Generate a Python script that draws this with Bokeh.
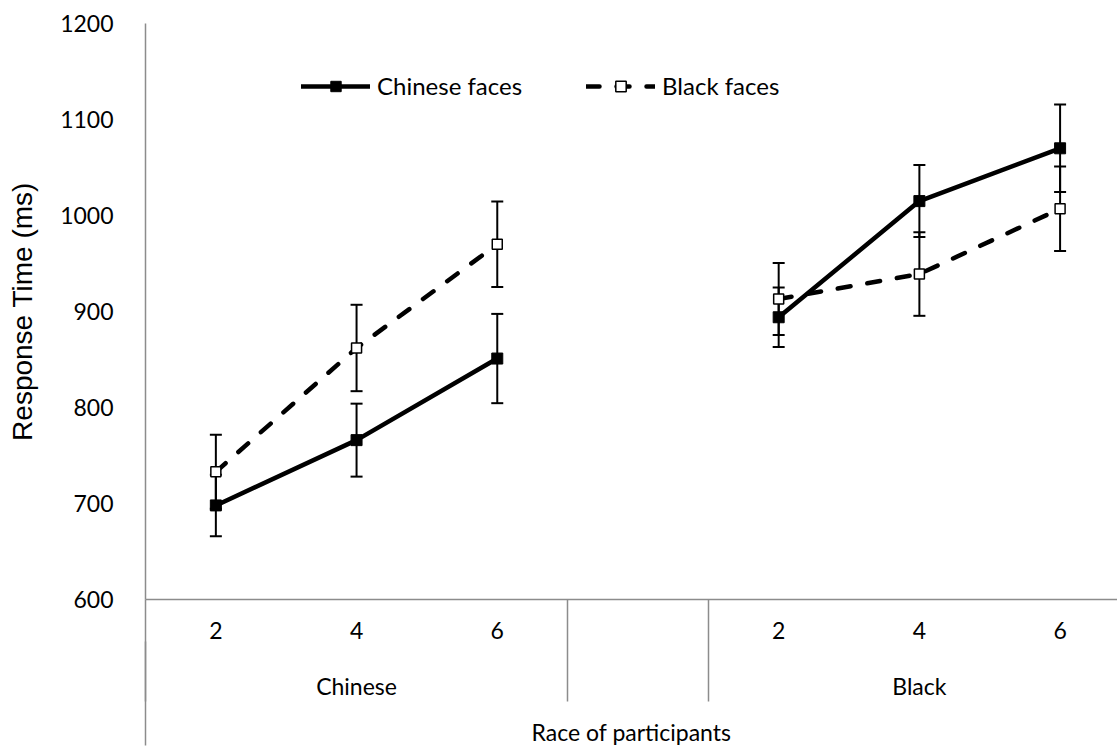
from bokeh.plotting import figure
from bokeh.models import (Range1d, LinearAxis, FixedTicker, ColumnDataSource,
                          Whisker, TeeHead, Legend, LegendItem)
from bokeh.embed import file_html
from bokeh.resources import INLINE

# ---------------- data ----------------
participant_groups = ["Chinese", "Black"]
set_sizes = ["2", "4", "6"]
chinese_faces_rt = [698, 766, 851, 894, 1015, 1070]
chinese_faces_err = [32, 38, 46.5, 31, 37.5, 45.5]
black_faces_rt = [733, 862, 970, 913, 939, 1007]
black_faces_err = [38.5, 45, 44.5, 37.5, 43.5, 44]
y_ticks = [600, 700, 800, 900, 1000, 1100, 1200]
series_names = ["Chinese faces", "Black faces"]
x_title = "Race of participants"
y_title = "Response Time (ms)"

# category slots: each group takes len(set_sizes) slots plus one empty slot
slots_per_group = len(set_sizes) + 1
positions = [g * slots_per_group + i for g in range(len(participant_groups)) for i in range(len(set_sizes))]
group_centers = [g * slots_per_group + (len(set_sizes) - 1) / 2 for g in range(len(participant_groups))]
separators = [len(set_sizes) - 0.5, len(set_sizes) + 0.5]

GRAY = "#8c8c8c"
FONT = "Lato"
FS = "23px"

p = figure(width=1117, height=748, output_backend="svg", toolbar_location=None,
           x_axis_location=None, y_axis_location=None,
           x_range=Range1d(-0.5, 6.408), y_range=Range1d(600, 1200),
           min_border_left=145, min_border_right=0, min_border_top=23, min_border_bottom=147)
p.outline_line_color = None
p.background_fill_color = "white"
p.border_fill_color = "white"
p.xgrid.visible = False
p.ygrid.visible = False

# ---------------- axes ----------------
yax = LinearAxis(ticker=FixedTicker(ticks=y_ticks))
yax.axis_line_color = GRAY
yax.axis_line_width = 1.5
yax.major_tick_out = 0
yax.major_tick_in = 0
yax.minor_tick_out = 0
yax.minor_tick_in = 0
yax.major_label_standoff = 32
yax.major_label_text_font = FONT
yax.major_label_text_font_size = FS
yax.major_label_text_color = "black"
yax.axis_label = y_title
yax.axis_label_text_font = "Liberation Sans"
yax.axis_label_text_font_size = "28px"
yax.axis_label_text_font_style = "normal"
yax.axis_label_text_color = "black"
yax.axis_label_standoff = 19
p.add_layout(yax, "left")

# first category level (set sizes) + separators drawn as long minor ticks
A_TICK = 102
axA = LinearAxis(ticker=FixedTicker(ticks=positions, minor_ticks=[-0.5] + separators))
axA.major_label_overrides = {pos: set_sizes[k % len(set_sizes)] for k, pos in enumerate(positions)}
axA.axis_line_color = GRAY
axA.axis_line_width = 1.5
axA.major_tick_out = 0
axA.major_tick_in = 0
axA.minor_tick_in = 0
axA.minor_tick_out = A_TICK
axA.minor_tick_line_color = GRAY
axA.minor_tick_line_width = 1.5
axA.major_label_standoff = 22 - A_TICK
axA.major_label_text_font = FONT
axA.major_label_text_font_size = FS
axA.major_label_text_color = "black"
p.add_layout(axA, "below")

# second category level (participant race) + axis title
B_TICK = 104
axB = LinearAxis(ticker=FixedTicker(ticks=group_centers, minor_ticks=[-0.5]))
axB.major_label_overrides = {c: participant_groups[k] for k, c in enumerate(group_centers)}
axB.axis_line_color = None
axB.major_tick_out = 0
axB.major_tick_in = 0
axB.minor_tick_in = 0
axB.minor_tick_out = B_TICK
axB.minor_tick_line_color = GRAY
axB.minor_tick_line_width = 1.5
axB.major_label_standoff = 30 - B_TICK
axB.major_label_text_font = FONT
axB.major_label_text_font_size = FS
axB.major_label_text_color = "black"
axB.axis_label = x_title
axB.axis_label_text_font = FONT
axB.axis_label_text_font_size = FS
axB.axis_label_text_font_style = "normal"
axB.axis_label_text_color = "black"
axB.axis_label_standoff = 15
p.add_layout(axB, "below")

# ---------------- error bars ----------------
def add_whiskers(rt, err):
    src = ColumnDataSource(dict(x=positions,
                                lower=[m - e for m, e in zip(rt, err)],
                                upper=[m + e for m, e in zip(rt, err)]))
    w = Whisker(base="x", lower="lower", upper="upper", source=src,
                line_color="black", line_width=2, level="underlay",
                upper_head=TeeHead(size=12, line_width=2, line_color="black"),
                lower_head=TeeHead(size=12, line_width=2, line_color="black"))
    p.add_layout(w)

add_whiskers(chinese_faces_rt, chinese_faces_err)
add_whiskers(black_faces_rt, black_faces_err)

# ---------------- lines + markers ----------------
n = len(set_sizes)
legend_items = []
styles = [
    dict(dash="solid", fill="black", size=11, mlw=1),
    dict(dash="13 17", fill="white", size=10, mlw=1.5),
]
for name, rt, st in zip(series_names, [chinese_faces_rt, black_faces_rt], styles):
    line_renderers = []
    for g in range(len(participant_groups)):
        xs = positions[g * n:(g + 1) * n]
        ys = rt[g * n:(g + 1) * n]
        r = p.line(xs, ys, line_color="black", line_width=4.5,
                   line_dash=st["dash"], line_cap="round", line_join="round")
        line_renderers.append(r)
    s = p.scatter(positions, rt, marker="square", size=st["size"],
                  fill_color=st["fill"], line_color="black", line_width=st["mlw"])
    legend_items.append(LegendItem(label=name, renderers=[line_renderers[0], s]))

legend = Legend(items=legend_items, orientation="horizontal", location=(156, 499),
                glyph_width=69, glyph_height=26, label_standoff=7, spacing=64,
                padding=0, margin=0, border_line_color=None, background_fill_alpha=0,
                label_text_font=FONT, label_text_font_size="24px",
                label_text_color="black")
p.add_layout(legend)

open("out.html", "w").write(file_html(p, INLINE))
